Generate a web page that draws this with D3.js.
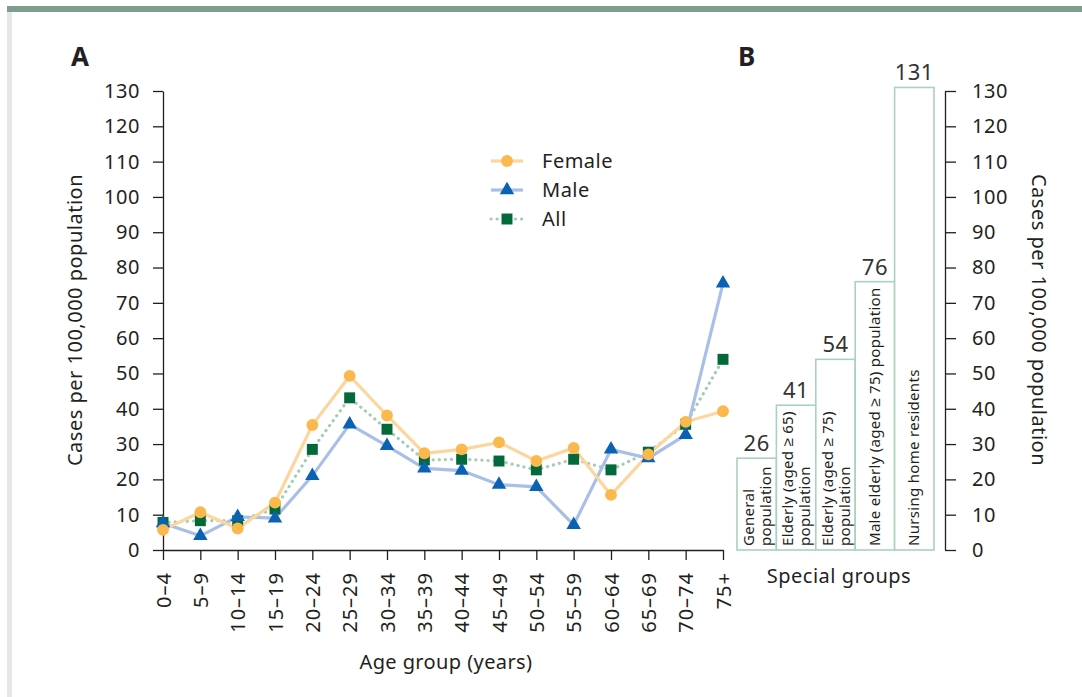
<!DOCTYPE html>
<html>
<head>
<meta charset="utf-8">
<script src="https://cdn.jsdelivr.net/npm/d3@7"></script>
<style>
  body { margin: 0; background: #fff; }
  text { font-family: "Noto Sans", sans-serif; fill: #231f20; }
</style>
</head>
<body>
<script>
// data
const ageGroups = ["0–4", "5–9", "10–14", "15–19", "20–24", "25–29", "30–34", "35–39",
  "40–44", "45–49", "50–54", "55–59", "60–64", "65–69", "70–74", "75+"];
const female = [5.7, 10.7, 6.1, 13.4, 35.4, 49.3, 38.1, 27.4, 28.5, 30.5, 25.2, 28.9, 15.6, 27.1, 36.3, 39.3];
const male = [7.6, 4.0, 9.4, 9.0, 21.0, 35.6, 29.5, 23.1, 22.5, 18.5, 17.9, 7.1, 28.5, 26.0, 32.6, 75.5];
const all = [7.8, 8.3, 8.3, 11.6, 28.5, 43.1, 34.2, 25.5, 25.7, 25.2, 22.7, 25.7, 22.7, 27.7, 35.6, 54.0];
const groupLabels = [
  ["General", "population"],
  ["Elderly (aged ≥ 65)", "population"],
  ["Elderly (aged ≥ 75)", "population"],
  ["Male elderly (aged ≥ 75) population"],
  ["Nursing home residents"]
];
const groupValues = [26, 41, 54, 76, 131];
const yTicks = d3.range(0, 131, 10);
// data

const W = 1082, H = 697;
const ink = "#231f20";

const svg = d3.select("body").append("svg")
  .attr("width", W)
  .attr("height", H);

// frame decoration
svg.append("rect").attr("x", 7).attr("y", 6).attr("width", W - 7).attr("height", 6).attr("fill", "#7f9d8d");
svg.append("rect").attr("x", 7).attr("y", 12).attr("width", 5).attr("height", H - 12).attr("fill", "#e6e6e6");

// scales
const x = d3.scalePoint().domain(ageGroups).range([163, 723]);
const y = d3.scaleLinear().domain([0, 130]).range([550, 91]);
const xB = d3.scaleBand().domain(d3.range(groupValues.length)).range([737, 934]).padding(0);

function styleAxis(g) {
  g.select(".domain").attr("stroke", ink).attr("stroke-width", 1.3);
  g.selectAll(".tick line").attr("stroke", ink).attr("stroke-width", 1.3);
  g.selectAll(".tick text").attr("fill", ink)
    .style("font-size", "20px").style("letter-spacing", "0.6px")
    .style("font-family", "Noto Sans");
}

// ---------- Panel A ----------
svg.append("text").attr("x", 71).attr("y", 66)
  .style("font-size", "26px").style("font-weight", "bold").text("A");

svg.append("g")
  .attr("transform", "translate(163,0)")
  .call(d3.axisLeft(y).tickValues(yTicks).tickSize(10).tickSizeOuter(0).tickPadding(13))
  .call(styleAxis);

const xAxis = svg.append("g")
  .attr("transform", "translate(0,550)")
  .call(d3.axisBottom(x).tickSize(10).tickSizeOuter(0))
  .call(styleAxis);
xAxis.selectAll(".tick text")
  .attr("transform", "rotate(-90)")
  .attr("y", 0)
  .attr("x", -22)
  .attr("dy", "0.35em")
  .style("letter-spacing", "1px")
  .style("text-anchor", "end");

svg.append("text")
  .attr("transform", "translate(82,320) rotate(-90)")
  .attr("text-anchor", "middle")
  .style("font-size", "20px").style("letter-spacing", "0.5px")
  .text("Cases per 100,000 population");

svg.append("text")
  .attr("x", 446).attr("y", 669)
  .attr("text-anchor", "middle")
  .style("font-size", "20px").style("letter-spacing", "0.4px")
  .text("Age group (years)");

const series = [
  { name: "Female", values: female, line: "#fdd69e", mark: "#fbb84c", dash: null, shape: d3.symbolCircle, size: 110 },
  { name: "Male", values: male, line: "#a9bfe8", mark: "#0b62b3", dash: null, shape: d3.symbolTriangle, size: 90 },
  { name: "All", values: all, line: "#a3cdb2", mark: "#04693a", dash: "0.1,6", shape: d3.symbolSquare, size: 120 }
];

const line = d3.line().x((d, i) => x(ageGroups[i])).y(d => y(d));

// lines first, then markers on top
const drawOrder = [series[2], series[1], series[0]];
drawOrder.forEach(s => {
  svg.append("path")
    .datum(s.values)
    .attr("d", line)
    .attr("fill", "none")
    .attr("stroke", s.line)
    .attr("stroke-width", 3.2)
    .attr("stroke-linecap", s.dash ? "round" : "butt")
    .attr("stroke-dasharray", s.dash);
});
drawOrder.forEach(s => {
  svg.selectAll(null)
    .data(s.values)
    .enter().append("path")
    .attr("transform", (d, i) => `translate(${x(ageGroups[i])},${y(d)})`)
    .attr("d", d3.symbol().type(s.shape).size(s.size))
    .attr("fill", s.mark);
});

// legend
const legend = svg.append("g").attr("transform", "translate(491,161)");
series.forEach((s, i) => {
  const g = legend.append("g").attr("transform", `translate(0,${i * 29})`);
  g.append("line").attr("x1", 0).attr("x2", 32).attr("y1", 0).attr("y2", 0)
    .attr("stroke", s.line).attr("stroke-width", 3.2)
    .attr("stroke-linecap", s.dash ? "round" : "butt")
    .attr("stroke-dasharray", s.dash);
  g.append("path").attr("transform", "translate(16,0)")
    .attr("d", d3.symbol().type(s.shape).size(s.size))
    .attr("fill", s.mark);
  g.append("text").attr("x", 51).attr("y", 7)
    .style("font-size", "20px").style("letter-spacing", "0.5px").text(s.name);
});

// ---------- Panel B ----------
svg.append("text").attr("x", 738).attr("y", 66)
  .style("font-size", "26px").style("font-weight", "bold").text("B");

svg.append("g")
  .attr("transform", "translate(945,0)")
  .call(d3.axisRight(y).tickValues(yTicks).tickSize(11).tickSizeOuter(0).tickPadding(16))
  .call(styleAxis);

svg.append("text")
  .attr("transform", "translate(1032,320) rotate(90)")
  .attr("text-anchor", "middle")
  .style("font-size", "20px").style("letter-spacing", "0.5px")
  .text("Cases per 100,000 population");

const bars = svg.selectAll(".bar")
  .data(groupValues)
  .enter().append("g")
  .attr("class", "bar");

bars.append("rect")
  .attr("x", (d, i) => xB(i))
  .attr("y", d => y(d))
  .attr("width", xB.bandwidth())
  .attr("height", d => y(0) - y(d))
  .attr("fill", "#fff")
  .attr("stroke", "#a8d2bb")
  .attr("stroke-width", 1.6);

bars.append("text")
  .attr("x", (d, i) => xB(i) + xB.bandwidth() / 2)
  .attr("y", d => y(d) - 7)
  .attr("text-anchor", "middle")
  .style("font-size", "22px").style("letter-spacing", "0.5px")
  .style("fill", "#333")
  .text(d => d);

groupLabels.forEach((lines, i) => {
  const x0 = xB(i);
  const offsets = lines.length === 2 ? [17, 34] : [xB.bandwidth() / 2 + 5];
  lines.forEach((t, j) => {
    svg.append("text")
      .attr("transform", `translate(${x0 + offsets[j]},546) rotate(-90)`)
      .style("font-size", "15px").style("letter-spacing", "0.3px")
      .text(t);
  });
});

svg.append("text")
  .attr("x", 839).attr("y", 583)
  .attr("text-anchor", "middle")
  .style("font-size", "20px").style("letter-spacing", "0.5px")
  .text("Special groups");
</script>
</body>
</html>
